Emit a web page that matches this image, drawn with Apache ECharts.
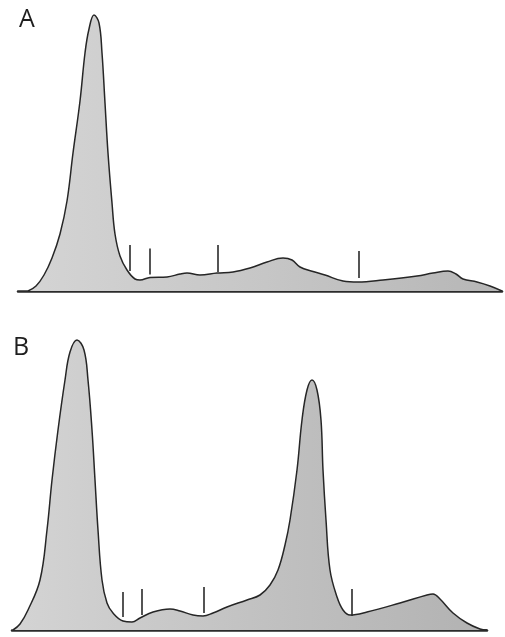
<!DOCTYPE html>
<html>
<head>
<meta charset="utf-8">
<script src="https://cdn.jsdelivr.net/npm/echarts@6/dist/echarts.min.js"></script>
<style>
html,body{margin:0;padding:0;background:#fff;}
#chart{width:505px;height:637px;}
</style>
</head>
<body>
<div id="chart"></div>
<script>
// Panel A densitometry scan: position along scan, height above baseline
const scanAPos    = [28, 36, 44, 52, 60, 67, 73, 80, 85, 89, 94, 99, 102, 105, 108, 112, 115, 120, 127, 135, 140, 150, 167, 180, 187, 200, 217, 233, 250, 267, 283, 292, 300, 313, 325, 343, 358, 383, 417, 433, 448, 456, 463, 477, 490, 502];
const scanAHeight = [0, 5, 16, 33, 57, 90, 138, 190, 238, 262, 276, 268, 238, 188, 138, 88, 57, 35, 21, 12, 11, 13.5, 14, 17, 18, 16, 18, 19, 23, 29, 33, 31, 24, 19.5, 16, 10, 9, 11, 15, 18, 20, 17, 12, 9, 5, 0];
// Panel A fraction separators
const tickAPos    = [130, 150, 218, 359];
const tickATop    = [46, 42.5, 46, 40];
const tickABottom = [20, 16.5, 19, 13];

// Panel B densitometry scan
const scanBPos    = [13, 20, 28, 40, 47, 52, 58, 65, 70, 77, 84, 88, 92, 95, 98, 102, 107, 113, 123, 132, 140, 153, 170, 180, 193, 203, 213, 227, 247, 260, 270, 278, 285, 290, 297, 302, 307, 312, 317, 321, 323, 326, 330, 337, 343, 350, 367, 400, 427, 433, 440, 453, 467, 480, 487];
const scanBHeight = [0, 6, 20, 50, 100, 150, 200, 250, 278, 290, 280, 250, 200, 150, 100, 50, 27, 17, 9, 8, 12, 18, 21, 19, 15, 14, 17, 23, 30, 35, 45, 60, 85, 110, 160, 210, 240, 250, 240, 210, 160, 110, 60, 33, 20, 15, 18, 27, 35, 36, 31, 17, 7, 1, 0];
// Panel B fraction separators
const tickBPos    = [123, 142, 204, 352];
const tickBTop    = [38, 41, 43, 41];
const tickBBottom = [13, 15, 17, 14];

const panelLabels = ['A', 'B'];

const chart = echarts.init(document.getElementById('chart'), null, {renderer: 'canvas'});

function zip(xs, ys) { return xs.map((x, i) => [x, ys[i]]); }

const fillGrad = new echarts.graphic.LinearGradient(0, 0, 1, 0, [
  {offset: 0, color: '#d4d4d4'},
  {offset: 0.5, color: '#c6c6c6'},
  {offset: 1, color: '#b6b6b6'}
]);
const fillGradB = new echarts.graphic.LinearGradient(0, 0, 1, 0, [
  {offset: 0, color: '#d4d4d4'},
  {offset: 0.5, color: '#c2c2c2'},
  {offset: 1, color: '#b2b2b2'}
]);

function tickSeries(pos, top, bot, idx) {
  return pos.map((p, i) => ({
    type: 'line',
    xAxisIndex: idx, yAxisIndex: idx,
    data: [[p, top[i]], [p, bot[i]]],
    symbol: 'none',
    lineStyle: {color: '#2a2a2a', width: 1.6},
    silent: true,
    z: 5
  }));
}

const hiddenAxis = {
  splitLine: {show: false},
  axisTick: {show: false},
  axisLabel: {show: false}
};

const option = {
  backgroundColor: '#ffffff',
  animation: false,
  grid: [
    {left: 18, right: 3, top: 0, bottom: 346},
    {left: 12, right: 18, top: 330, bottom: 7}
  ],
  xAxis: [
    Object.assign({type: 'value', gridIndex: 0, min: 18, max: 502,
      axisLine: {show: true, lineStyle: {color: '#2b2b2b', width: 2.5}}}, hiddenAxis),
    Object.assign({type: 'value', gridIndex: 1, min: 12, max: 487,
      axisLine: {show: true, lineStyle: {color: '#2b2b2b', width: 2.5}}}, hiddenAxis)
  ],
  yAxis: [
    Object.assign({type: 'value', gridIndex: 0, min: 0, max: 291, axisLine: {show: false}}, hiddenAxis),
    Object.assign({type: 'value', gridIndex: 1, min: 0, max: 300, axisLine: {show: false}}, hiddenAxis)
  ],
  graphic: [
    {type: 'text', left: 19, top: 7, style: {text: panelLabels[0], font: '400 25px "Open Sans", "Lato", sans-serif', fill: '#1e1e1e'}},
    {type: 'text', left: 13, top: 335, style: {text: panelLabels[1], font: '400 25px "Open Sans", "Lato", sans-serif', fill: '#1e1e1e'}}
  ],
  series: [
    {
      type: 'line', xAxisIndex: 0, yAxisIndex: 0,
      data: zip(scanAPos, scanAHeight),
      smooth: 0.4, symbol: 'none',
      lineStyle: {color: '#262626', width: 1.5},
      areaStyle: {color: fillGrad, opacity: 1},
      z: 3
    },
    {
      type: 'line', xAxisIndex: 1, yAxisIndex: 1,
      data: zip(scanBPos, scanBHeight),
      smooth: 0.4, symbol: 'none',
      lineStyle: {color: '#262626', width: 1.5},
      areaStyle: {color: fillGradB, opacity: 1},
      z: 3
    }
  ].concat(tickSeries(tickAPos, tickATop, tickABottom, 0))
   .concat(tickSeries(tickBPos, tickBTop, tickBBottom, 1))
};

chart.setOption(option);
</script>
</body>
</html>
